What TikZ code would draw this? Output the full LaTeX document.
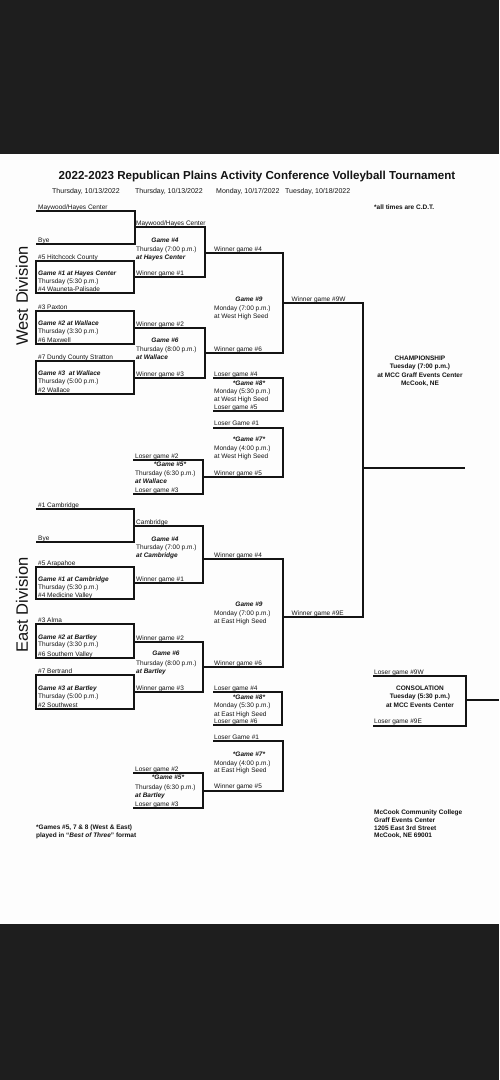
\documentclass[tikz,border=0pt]{standalone}
\usepackage{fontspec}
\setmainfont{Liberation Sans}
\usetikzlibrary{positioning}
\definecolor{BandGray}{RGB}{30,30,30}
\definecolor{PageWhite}{RGB}{253,253,253}
\definecolor{InkBlack}{RGB}{20,20,20}
\newcommand{\boxfont}{\fontsize{6.5}{7.5}\selectfont}
\newcommand{\datefont}{\fontsize{7}{8}\selectfont}
\newcommand{\divfont}{\fontsize{16.5}{18}\selectfont}

\begin{document}
\begin{tikzpicture}[x=1pt,y=-1pt,
    bline/.style={line width=1.2pt,InkBlack},
    lbl/.style={anchor=base west,inner sep=0pt,font=\boxfont,text=InkBlack},
    venue/.style={lbl,font=\boxfont\bfseries\itshape},
    gamehead/.style={anchor=base,inner sep=0pt,font=\boxfont\bfseries\itshape,text=InkBlack},
    info/.style={anchor=base,inner sep=0pt,font=\boxfont\bfseries,text=InkBlack}]
  % page and dark bands
  \useasboundingbox (0,0) rectangle (499,1080);
  \fill[PageWhite] (0,0) rectangle (499,1080);
  \fill[BandGray] (0,0) rectangle (499,154);
  \fill[BandGray] (0,924) rectangle (499,1080);

  % heading
  \node[anchor=base,inner sep=0pt,font=\fontsize{11.6}{13}\selectfont\bfseries,text=InkBlack]
    (title) at (257,179.5) {2022-2023 Republican Plains Activity Conference Volleyball Tournament};
  \node[lbl,font=\datefont] (dayA) at (52,193.5) {Thursday, 10/13/2022};
  \node[lbl,font=\datefont] (dayB) at (135,193.5) {Thursday, 10/13/2022};
  \node[lbl,font=\datefont] (dayC) at (216,193.5) {Monday, 10/17/2022};
  \node[lbl,font=\datefont] (dayD) at (285,193.5) {Tuesday, 10/18/2022};
  \node[lbl,font=\boxfont\bfseries] (cdt) at (374,209.5) {*all times are C.D.T.};

  \node[rotate=90,inner sep=0pt,font=\divfont,text=InkBlack] (westDiv) at (22,296) {West Division};
  \node[rotate=90,inner sep=0pt,font=\divfont,text=InkBlack] (eastDiv) at (22,605) {East Division};

  % ---------------- West, round one
  \draw[bline] (36,211) -- (135,211) -- (135,244) -- (36,244);
  \node[lbl] (wTeamA) at (38,209) {Maywood/Hayes Center};
  \node[lbl] (wByeA) at (38,242) {Bye};
  \draw[bline] (36,261) rectangle (134,293);
  \node[lbl] (wTeamB) at (38,259) {\#5 Hitchcock County};
  \node[venue] (wGameA) at (38,275) {Game \#1 at Hayes Center};
  \node[lbl] (wTimeA) at (38,283.5) {Thursday (5:30 p.m.)};
  \node[lbl] (wTeamC) at (38,291.5) {\#4 Wauneta-Palisade};
  \draw[bline] (36,311) rectangle (134,344);
  \node[lbl] (wTeamD) at (38,309) {\#3 Paxton};
  \node[venue] (wGameB) at (38,325) {Game \#2 at Wallace};
  \node[lbl] (wTimeB) at (38,333) {Thursday (3:30 p.m.)};
  \node[lbl] (wTeamE) at (38,342) {\#6 Maxwell};
  \draw[bline] (36,361) rectangle (134,394);
  \node[lbl] (wTeamF) at (38,359.5) {\#7 Dundy County Stratton};
  \node[venue] (wGameC) at (38,375.5) {Game \#3\ \ at Wallace};
  \node[lbl] (wTimeC) at (38,383.5) {Thursday (5:00 p.m.)};
  \node[lbl] (wTeamG) at (38,392) {\#2 Wallace};

  % West, round two
  \draw[bline] (135,227) -- (205,227) -- (205,277) -- (134,277);
  \node[lbl] (wAdvA) at (136,225.5) {Maywood/Hayes Center};
  \node[gamehead] (wGameD) at (165,242.5) {Game \#4};
  \node[lbl] (wTimeD) at (136,251.5) {Thursday (7:00 p.m.)};
  \node[venue] (wSiteD) at (136,259) {at Hayes Center};
  \node[lbl] (wAdvB) at (136,275.5) {Winner game \#1};
  \draw[bline] (134,328) -- (205,328) -- (205,378) -- (134,378);
  \node[lbl] (wAdvC) at (136,326.5) {Winner game \#2};
  \node[gamehead] (wGameE) at (165,342.5) {Game \#6};
  \node[lbl] (wTimeE) at (136,351.5) {Thursday (8:00 p.m.)};
  \node[venue] (wSiteE) at (136,359.5) {at Wallace};
  \node[lbl] (wAdvD) at (136,376.5) {Winner game \#3};

  % West, round three
  \draw[bline] (205,253) -- (283,253) -- (283,353) -- (205,353);
  \node[lbl] (wAdvE) at (214,251.5) {Winner game \#4};
  \node[gamehead] (wGameF) at (249,301.5) {Game \#9};
  \node[lbl] (wTimeF) at (214,310) {Monday (7:00 p.m.)};
  \node[lbl] (wSiteF) at (214,318) {at West High Seed};
  \node[lbl] (wAdvF) at (214,351.5) {Winner game \#6};

  % West, losers
  \draw[bline] (213,378) -- (283,378) -- (283,411) -- (213,411);
  \node[lbl] (wLosA) at (214,376.5) {Loser game \#4};
  \node[gamehead] (wGameG) at (249,385) {*Game \#8*};
  \node[lbl] (wTimeG) at (214,393) {Monday (5:30 p.m.)};
  \node[lbl] (wSiteG) at (214,401.5) {at West High Seed};
  \node[lbl] (wLosB) at (214,409.5) {Loser game \#5};
  \draw[bline] (213,428) -- (283,428) -- (283,477) -- (203,477);
  \node[lbl] (wLosC) at (214,425.5) {Loser Game \#1};
  \node[gamehead] (wGameH) at (249,441.5) {*Game \#7*};
  \node[lbl] (wTimeH) at (214,450) {Monday (4:00 p.m.)};
  \node[lbl] (wSiteH) at (214,458) {at West High Seed};
  \node[lbl] (wAdvG) at (214,475) {Winner game \#5};
  \draw[bline] (133,460) -- (203,460) -- (203,494) -- (133,494);
  \node[lbl] (wLosD) at (135,458.5) {Loser game \#2};
  \node[gamehead] (wGameI) at (170,466.5) {*Game \#5*};
  \node[lbl] (wTimeI) at (135,475) {Thursday (6:30 p.m.)};
  \node[venue] (wSiteI) at (135,483.5) {at Wallace};
  \node[lbl] (wLosE) at (135,492) {Loser game \#3};

  % ---------------- East, round one
  \draw[bline] (36,509) -- (134,509) -- (134,542) -- (36,542);
  \node[lbl] (eTeamA) at (38,507.5) {\#1 Cambridge};
  \node[lbl] (eByeA) at (38,540.5) {Bye};
  \draw[bline] (36,567) rectangle (134,599);
  \node[lbl] (eTeamB) at (38,565) {\#5 Arapahoe};
  \node[venue] (eGameA) at (38,581.5) {Game \#1 at Cambridge};
  \node[lbl] (eTimeA) at (38,589.5) {Thursday (5:30 p.m.)};
  \node[lbl] (eTeamC) at (38,597.5) {\#4 Medicine Valley};
  \draw[bline] (36,624) rectangle (134,658);
  \node[lbl] (eTeamD) at (38,622.5) {\#3 Alma};
  \node[venue] (eGameB) at (38,639) {Game \#2 at Bartley};
  \node[lbl] (eTimeB) at (38,646.5) {Thursday (3:30 p.m.)};
  \node[lbl] (eTeamE) at (38,656) {\#6 Southern Valley};
  \draw[bline] (36,675) rectangle (134,709);
  \node[lbl] (eTeamF) at (38,673) {\#7 Bertrand};
  \node[venue] (eGameC) at (38,690.5) {Game \#3 at Bartley};
  \node[lbl] (eTimeC) at (38,698.5) {Thursday (5:00 p.m.)};
  \node[lbl] (eTeamG) at (38,707) {\#2 Southwest};

  % East, round two
  \draw[bline] (134,526) -- (203,526) -- (203,583) -- (134,583);
  \node[lbl] (eAdvA) at (136,524.5) {Cambridge};
  \node[gamehead] (eGameD) at (165,541.5) {Game \#4};
  \node[lbl] (eTimeD) at (136,549.5) {Thursday (7:00 p.m.)};
  \node[venue] (eSiteD) at (136,557.5) {at Cambridge};
  \node[lbl] (eAdvB) at (136,581.5) {Winner game \#1};
  \draw[bline] (134,642) -- (203,642) -- (203,692) -- (134,692);
  \node[lbl] (eAdvC) at (136,640) {Winner game \#2};
  \node[gamehead] (eGameE) at (166,655.5) {Game \#6};
  \node[lbl] (eTimeE) at (136,665) {Thursday (8:00 p.m.)};
  \node[venue] (eSiteE) at (136,673) {at Bartley};
  \node[lbl] (eAdvD) at (136,690) {Winner game \#3};

  % East, round three
  \draw[bline] (203,559) -- (283,559) -- (283,667) -- (203,667);
  \node[lbl] (eAdvE) at (214,557.5) {Winner game \#4};
  \node[gamehead] (eGameF) at (249,606.5) {Game \#9};
  \node[lbl] (eTimeF) at (214,615) {Monday (7:00 p.m.)};
  \node[lbl] (eSiteF) at (214,623.5) {at East High Seed};
  \node[lbl] (eAdvF) at (214,665) {Winner game \#6};

  % East, losers
  \draw[bline] (213,692) -- (282,692) -- (282,725) -- (213,725);
  \node[lbl] (eLosA) at (214,690) {Loser game \#4};
  \node[gamehead] (eGameG) at (249,699.5) {*Game \#8*};
  \node[lbl] (eTimeG) at (214,707.5) {Monday (5:30 p.m.)};
  \node[lbl] (eSiteG) at (214,716) {at East High Seed};
  \node[lbl] (eLosB) at (214,723.5) {Loser game \#6};
  \draw[bline] (213,741) -- (283,741) -- (283,791) -- (203,791);
  \node[lbl] (eLosC) at (214,739) {Loser Game \#1};
  \node[gamehead] (eGameH) at (249,756.5) {*Game \#7*};
  \node[lbl] (eTimeH) at (214,765) {Monday (4:00 p.m.)};
  \node[lbl] (eSiteH) at (214,772.5) {at East High Seed};
  \node[lbl] (eAdvG) at (214,788.5) {Winner game \#5};
  \draw[bline] (133,773) -- (203,773) -- (203,808) -- (133,808);
  \node[lbl] (eLosD) at (135,771.5) {Loser game \#2};
  \node[gamehead] (eGameI) at (168,779.5) {*Game \#5*};
  \node[lbl] (eTimeI) at (135,789) {Thursday (6:30 p.m.)};
  \node[venue] (eSiteI) at (135,797.5) {at Bartley};
  \node[lbl] (eLosE) at (135,806) {Loser game \#3};

  % ---------------- finals
  \draw[bline] (283,303) -- (363,303) -- (363,617) -- (283,617);
  \draw[bline] (363,468) -- (465,468);
  \node[lbl] (wWin) at (291.5,301.5) {Winner game \#9W};
  \node[lbl] (eWin) at (291.5,615) {Winner game \#9E};
  \node[info] (champA) at (420,360) {CHAMPIONSHIP};
  \node[info] (champB) at (420,368.5) {Tuesday (7:00 p.m.)};
  \node[info] (champC) at (420,377) {at MCC Graff Events Center};
  \node[info] (champD) at (420,385) {McCook, NE};

  \draw[bline] (373,676) -- (466,676) -- (466,726) -- (373,726);
  \draw[bline] (466,700) -- (499,700);
  \node[lbl] (wLos) at (374,674) {Loser game \#9W};
  \node[lbl] (eLos) at (374,723.5) {Loser game \#9E};
  \node[info] (consA) at (420,690) {CONSOLATION};
  \node[info] (consB) at (420,698.5) {Tuesday (5:30 p.m.)};
  \node[info] (consC) at (420,707) {at MCC Events Center};

  % notes
  \node[lbl,font=\boxfont\bfseries] (noteA) at (36,829) {*Games \#5, 7 \& 8 (West \& East)};
  \node[lbl,font=\boxfont\bfseries] (noteB) at (36,837.5) {played in ``\textit{Best of Three}'' format};
  \node[lbl,font=\boxfont\bfseries] (addrA) at (374,814) {McCook Community College};
  \node[lbl,font=\boxfont\bfseries] (addrB) at (374,822) {Graff Events Center};
  \node[lbl,font=\boxfont\bfseries] (addrC) at (374,830) {1205 East 3rd Street};
  \node[lbl,font=\boxfont\bfseries] (addrD) at (374,837.5) {McCook, NE 69001};
\end{tikzpicture}
\end{document}
